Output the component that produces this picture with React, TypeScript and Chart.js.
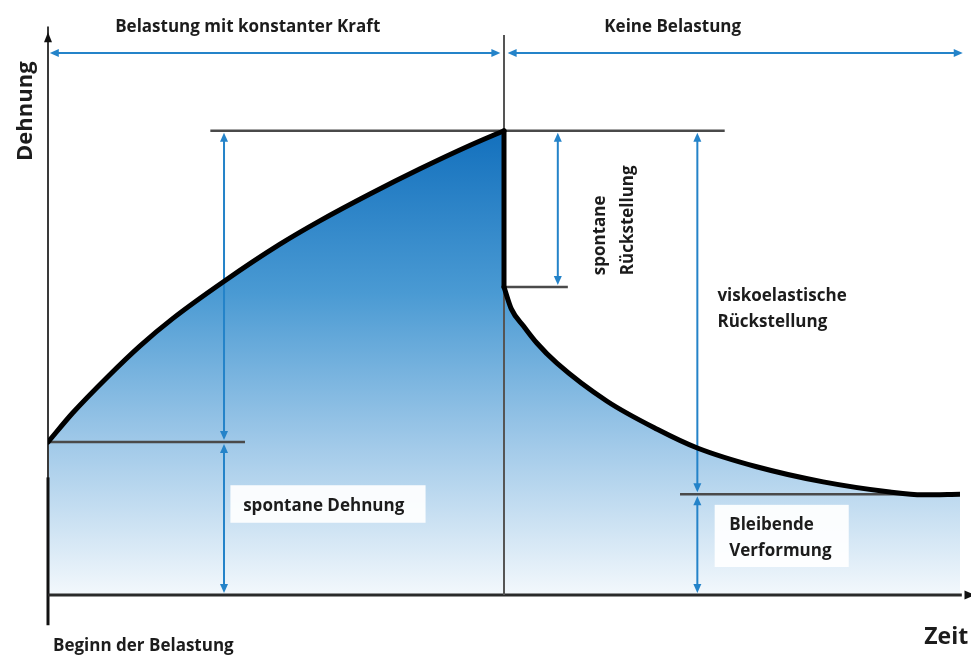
import React, { useEffect, useRef } from "react";
import { Chart, registerables } from "chart.js";

Chart.register(...registerables);

// Loading phase (constant force): time vs strain
const loadTime = [0, 2.7, 6.5, 10.1, 13.7, 19.2, 25.4, 29.8, 35.3, 40.8, 46.3, 50];
const loadStrain = [27.3, 32.5, 38.9, 44.5, 49.4, 55.9, 62.6, 66.8, 71.6, 76.1, 80.3, 82.9];

// Unloading phase (recovery): time vs strain
const recTime = [50, 50.8, 52.2, 53.6, 55.8, 61.3, 66.8, 71.2, 77.7, 85.0, 92.3, 95.9, 100];
const recStrain = [55.0, 51.1, 47.9, 45.0, 41.4, 34.6, 29.6, 26.25, 22.9, 20.2, 18.4, 17.9, 18.0];

const phaseLabels = ["Belastung mit konstanter Kraft", "Keine Belastung"];
const axisLabels = { y: "Dehnung", x: "Zeit", start: "Beginn der Belastung" };
const noteSpontRecovery = ["spontane", "Rückstellung"];
const noteViscoRecovery = ["viskoelastische", "Rückstellung"];
const noteSpontStrain = "spontane Dehnung";
const notePermanent = ["Bleibende", "Verformung"];

const BLUE = "#2483c9";
const GUIDE = "#4a4a4a";
const TEXT = "#1c1c1c";
const FONT = '"Open Sans", "DejaVu Sans", sans-serif';

function head(ctx: CanvasRenderingContext2D, x: number, y: number, dir: string, color: string, len = 9, half = 4) {
  ctx.save();
  ctx.fillStyle = color;
  ctx.beginPath();
  if (dir === "up") {
    ctx.moveTo(x, y);
    ctx.lineTo(x - half, y + len);
    ctx.lineTo(x + half, y + len);
  } else if (dir === "down") {
    ctx.moveTo(x, y);
    ctx.lineTo(x - half, y - len);
    ctx.lineTo(x + half, y - len);
  } else if (dir === "left") {
    ctx.moveTo(x, y);
    ctx.lineTo(x + len, y - half);
    ctx.lineTo(x + len, y + half);
  } else {
    ctx.moveTo(x, y);
    ctx.lineTo(x - len, y - half);
    ctx.lineTo(x - len, y + half);
  }
  ctx.closePath();
  ctx.fill();
  ctx.restore();
}

function line(ctx: CanvasRenderingContext2D, x1: number, y1: number, x2: number, y2: number, color: string, w: number) {
  ctx.save();
  ctx.strokeStyle = color;
  ctx.lineWidth = w;
  ctx.beginPath();
  ctx.moveTo(x1, y1);
  ctx.lineTo(x2, y2);
  ctx.stroke();
  ctx.restore();
}

function vArrow(ctx: CanvasRenderingContext2D, x: number, y1: number, y2: number) {
  line(ctx, x, y1 + 4, x, y2 - 4, BLUE, 2);
  head(ctx, x, y1, "up", BLUE);
  head(ctx, x, y2, "down", BLUE);
}

function hArrow(ctx: CanvasRenderingContext2D, x1: number, x2: number, y: number) {
  line(ctx, x1 + 4, y, x2 - 4, y, BLUE, 2);
  head(ctx, x1, y, "left", BLUE);
  head(ctx, x2, y, "right", BLUE);
}

const diagramPlugin = {
  id: "diagram",
  beforeDatasetsDraw(chart: any) {
    const { ctx } = chart;
    const xs = chart.scales.x;
    const ys = chart.scales.y;
    const X = (v: number) => xs.getPixelForValue(v);
    const Y = (v: number) => ys.getPixelForValue(v);
    const peak = loadStrain[loadStrain.length - 1];
    const start = loadStrain[0];
    const drop = recStrain[0];
    const fin = recStrain[recStrain.length - 1];
    const tSwitch = loadTime[loadTime.length - 1];

    // y axis
    line(ctx, X(0), Y(101.5), X(0), Y(0), "#3a3a3a", 2);
    line(ctx, X(0), Y(21), X(0), Y(-5.4), "#111", 3);
    head(ctx, X(0), Y(100.5), "up", "#111", 10, 4);
    // x axis
    line(ctx, X(0), Y(0), X(100.2), Y(0), "#2a2a2a", 3);
    head(ctx, X(101.7), Y(0), "right", "#111", 11, 4.5);
    // load switch line
    line(ctx, X(tSwitch), Y(100), X(tSwitch), Y(0), "#555", 2);

    // horizontal guides
    line(ctx, X(17.8), Y(peak), X(74.2), Y(peak), GUIDE, 2.5);
    line(ctx, X(tSwitch), Y(drop), X(57.0), Y(drop), GUIDE, 2.5);
    line(ctx, X(0), Y(start), X(21.6), Y(start), GUIDE, 2.5);
    line(ctx, X(69.3), Y(fin), X(100), Y(fin), GUIDE, 2.5);

    // phase arrows
    hArrow(ctx, X(0.2), X(49.6), Y(96.8));
    hArrow(ctx, X(50.4), X(100.3), Y(96.8));

    // measurement arrows
    vArrow(ctx, X(19.3), Y(peak) + 2, Y(start) - 2);
    vArrow(ctx, X(19.3), Y(start) + 2, Y(0) - 2);
    vArrow(ctx, X(55.9), Y(peak) + 2, Y(drop) - 2);
    vArrow(ctx, X(71.2), Y(peak) + 2, Y(fin) - 2);
    vArrow(ctx, X(71.2), Y(fin) + 2, Y(0) - 2);
  },
  afterDatasetsDraw(chart: any) {
    const { ctx } = chart;
    const xs = chart.scales.x;
    const ys = chart.scales.y;
    const X = (v: number) => xs.getPixelForValue(v);
    const Y = (v: number) => ys.getPixelForValue(v);

    ctx.save();
    // label boxes
    ctx.fillStyle = "rgba(255,255,255,0.92)";
    ctx.fillRect(X(20.0), Y(19.6), X(41.4) - X(20.0), Y(12.9) - Y(19.6));
    ctx.fillRect(X(73.1), Y(16.1), X(87.8) - X(73.1), Y(5.0) - Y(16.1));

    ctx.fillStyle = TEXT;
    ctx.textBaseline = "alphabetic";
    ctx.font = `bold 17px ${FONT}`;
    ctx.textAlign = "center";
    ctx.fillText(phaseLabels[0], X(21.9), Y(100.5));
    ctx.fillText(phaseLabels[1], X(68.5), Y(100.5));

    ctx.textAlign = "left";
    ctx.fillText(noteViscoRecovery[0], X(73.4), Y(52.5));
    ctx.fillText(noteViscoRecovery[1], X(73.4), Y(47.8));
    ctx.fillText(noteSpontStrain, X(21.4), Y(15.0));
    ctx.fillText(notePermanent[0], X(74.7), Y(11.6));
    ctx.fillText(notePermanent[1], X(74.7), Y(7.0));
    ctx.fillText(axisLabels.start, X(0.55), Y(-10.0));

    ctx.textAlign = "right";
    ctx.font = `bold 23px ${FONT}`;
    ctx.fillText(axisLabels.x, X(100.9), Y(-8.75));

    // rotated labels
    ctx.save();
    ctx.translate(X(-1.8), Y(86.4));
    ctx.rotate(-Math.PI / 2);
    ctx.textAlign = "center";
    ctx.font = `bold 22px ${FONT}`;
    ctx.fillText(axisLabels.y, 0, 0);
    ctx.restore();

    ctx.font = `bold 17px ${FONT}`;
    ctx.save();
    ctx.translate(X(61.1), Y(57.1));
    ctx.rotate(-Math.PI / 2);
    ctx.textAlign = "left";
    ctx.fillText(noteSpontRecovery[0], 0, 0);
    ctx.restore();
    ctx.save();
    ctx.translate(X(64.1), Y(57.1));
    ctx.rotate(-Math.PI / 2);
    ctx.textAlign = "left";
    ctx.fillText(noteSpontRecovery[1], 0, 0);
    ctx.restore();

    ctx.restore();
  },
};

function gradientFill(context: any) {
  const chart = context.chart;
  const { ctx, chartArea, scales } = chart;
  if (!chartArea) return "rgba(36,131,201,0.5)";
  const top = scales.y.getPixelForValue(loadStrain[loadStrain.length - 1]);
  const bottom = scales.y.getPixelForValue(0);
  const g = ctx.createLinearGradient(0, top, 0, bottom);
  g.addColorStop(0, "#1370bd");
  g.addColorStop(0.35, "#4a9ad3");
  g.addColorStop(0.68, "#a2cae9");
  g.addColorStop(1, "#f3f8fc");
  return g;
}

export default function App() {
  const ref = useRef<HTMLCanvasElement | null>(null);
  useEffect(() => {
    if (!ref.current) return;
    const loadData = loadTime.map((t, i) => ({ x: t, y: loadStrain[i] }));
    const recData = recTime.map((t, i) => ({ x: t, y: recStrain[i] }));
    const dropData = [
      { x: loadTime[loadTime.length - 1], y: loadStrain[loadStrain.length - 1] },
      { x: recTime[0], y: recStrain[0] },
    ];
    const chart = new Chart(ref.current, {
      type: "line",
      data: {
        datasets: [
          {
            data: loadData,
            borderColor: "#000",
            borderWidth: 5,
            backgroundColor: gradientFill,
            fill: "origin",
            cubicInterpolationMode: "monotone",
            pointRadius: 0,
            borderCapStyle: "round",
            borderJoinStyle: "round",
          },
          {
            data: dropData,
            borderColor: "#000",
            borderWidth: 5,
            fill: false,
            tension: 0,
            pointRadius: 0,
            borderCapStyle: "round",
          },
          {
            data: recData,
            borderColor: "#000",
            borderWidth: 5,
            backgroundColor: gradientFill,
            fill: "origin",
            cubicInterpolationMode: "monotone",
            pointRadius: 0,
            borderCapStyle: "round",
            borderJoinStyle: "round",
          },
        ],
      } as any,
      options: {
        animation: false,
        responsive: false,
        layout: { padding: { left: 48, right: 11, top: 35, bottom: 60 } },
        scales: {
          x: { type: "linear", min: 0, max: 100, display: false },
          y: { type: "linear", min: 0, max: 100, display: false },
        },
        plugins: {
          legend: { display: false },
          tooltip: { enabled: false },
          filler: { drawTime: "beforeDatasetsDraw" },
        } as any,
      },
      plugins: [diagramPlugin as any],
    });
    return () => chart.destroy();
  }, []);
  return (
    <div style={{ position: "absolute", left: 0, top: 0, width: 971, height: 655, background: "#fff" }}>
      <canvas ref={ref} width={971} height={655} style={{ display: "block" }} />
    </div>
  );
}
